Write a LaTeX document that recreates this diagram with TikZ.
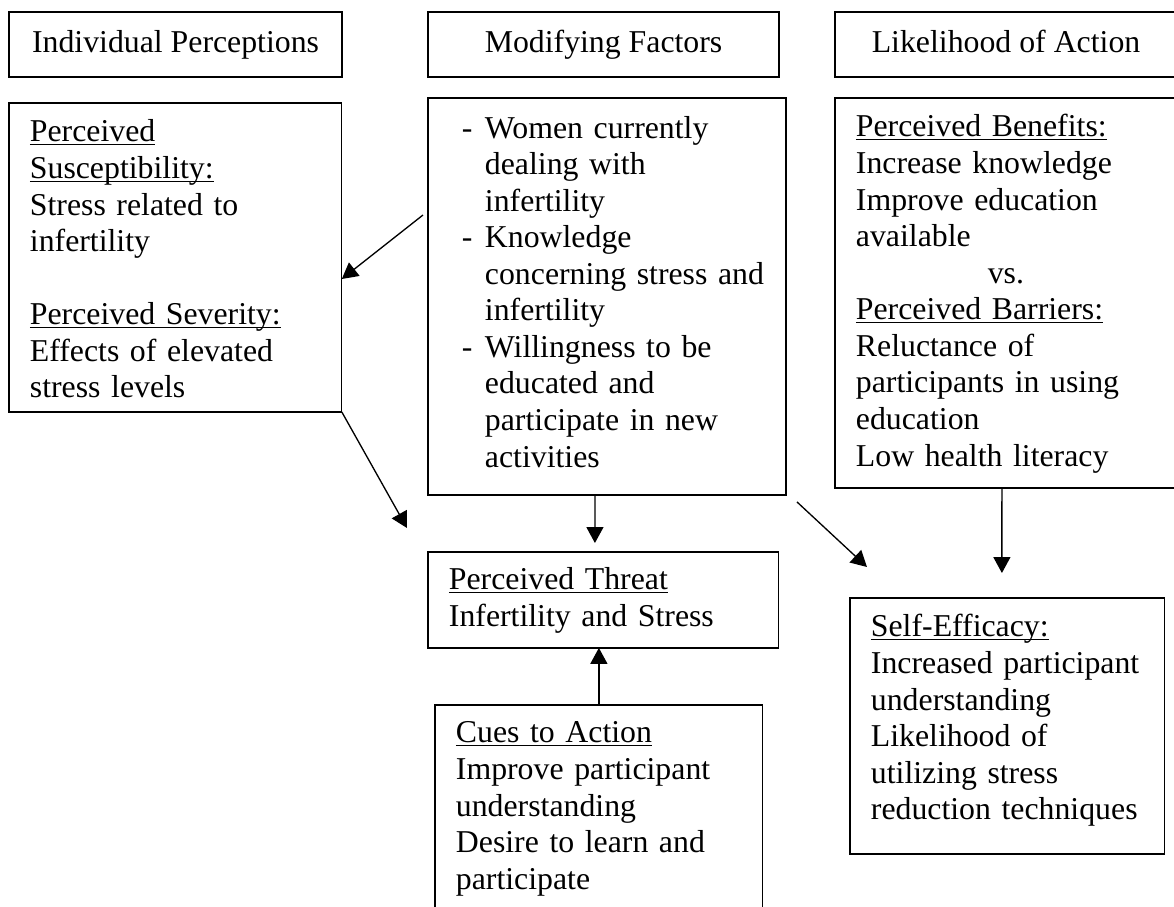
\documentclass[tikz,border=0pt]{standalone}
\usepackage{fontspec}
\setmainfont{Liberation Serif}
\usetikzlibrary{arrows.meta}
\setlength{\parindent}{0pt}
\setlength{\parskip}{0pt}
\newcommand{\dashitem}{\hspace*{4.9pt}\makebox[8.7pt][l]{-}}
\newcommand{\dashcont}{\hspace*{13.6pt}}
% underline drawn just under the baseline, through the descenders
\newcommand{\undl}[1]{\leavevmode\setbox0\hbox{#1}\rlap{\rule[-1.3pt]{\wd0}{0.55pt}}\box0}

\begin{document}
\begin{tikzpicture}[x=0.3774pt, y=-0.3774pt,
    every node/.style={font=\fontsize{12}{13.8}\selectfont},
    head/.style={draw, line width=0.5pt, anchor=north west, inner sep=0pt, outer sep=0pt,
      text height=8.5pt, text depth=2.5pt, minimum height=24.5pt},
    panel/.style={draw, line width=0.5pt, anchor=north west, inner xsep=7.9pt, inner ysep=0pt,
      outer sep=0pt, align=left},
    link/.style={line width=0.5pt, -{Triangle[length=6pt,width=6.4pt]}}]
  \useasboundingbox (0,0) rectangle (1174,907);

  \node[head, minimum width=125.7pt] (perc) at (9,12) {Individual Perceptions};
  \node[head, minimum width=132.5pt] (modf) at (428,12) {Modifying Factors};
  \node[head, minimum width=129.1pt] (like) at (835,12) {Likelihood of Action};

  \node[panel, text width=109.8pt, text height=14.7pt, text depth=101.9pt] (susc) at (9,103)
    {\undl{Perceived}\\ \undl{Susceptibility:}\\ Stress related to\\ infertility\\[13.8pt]
     \undl{Perceived Severity:}\\ Effects of elevated\\ stress levels};
  \node[panel, text width=119.3pt, text height=15.1pt, text depth=134.7pt] (fact) at (428,98)
    {\dashitem Women currently\\ \dashcont dealing with\\ \dashcont infertility\\
     \dashitem Knowledge\\ \dashcont concerning stress and\\ \dashcont infertility\\
     \dashitem Willingness to be\\ \dashcont educated and\\ \dashcont participate in new\\
     \dashcont activities};
  \node[panel, text width=113.2pt, text height=14.7pt, text depth=132.5pt] (gain) at (835,98)
    {\undl{Perceived Benefits:}\\ Increase knowledge\\ Improve education\\ available\\
     \leavevmode\hbox to \hsize{\hss vs.\hss}\\ \undl{Perceived Barriers:}\\ Reluctance of\\
     participants in using\\ education\\ Low health literacy};
  \node[panel, text width=116.6pt, text height=14.3pt, text depth=21.9pt] (thrt) at (428,552)
    {\undl{Perceived Threat}\\ Infertility and Stress};
  \node[panel, text width=107.9pt, text height=14.3pt, text depth=66.8pt] (cues) at (435,705)
    {\undl{Cues to Action}\\ Improve participant\\ understanding\\ Desire to learn and\\ participate};
  \node[panel, text width=103.0pt, text height=14.7pt, text depth=81.9pt] (effi) at (850,598)
    {\undl{Self-Efficacy:}\\ Increased participant\\ understanding\\ Likelihood of\\
     utilizing stress\\ reduction techniques};

  \draw[link] ([shift={(-5,117)}]fact.north west) -- ([shift={(0,176)}]susc.north east);
  \draw[link] (susc.south east) -- ([shift={(-21,-24)}]thrt.north west);
  \draw[link] ([shift={(-12,0)}]fact.south) -- ([shift={(-8.5,-9)}]thrt.north);
  \draw[link] (cues.north) -- (cues.north |- thrt.south);
  \draw[link] ([shift={(11,7)}]fact.south east) -- ([shift={(17,-31)}]effi.north west);
  \draw[link] ([shift={(-4,0)}]gain.south) -- ([shift={(-5.5,-25)}]effi.north);
\end{tikzpicture}
\end{document}
